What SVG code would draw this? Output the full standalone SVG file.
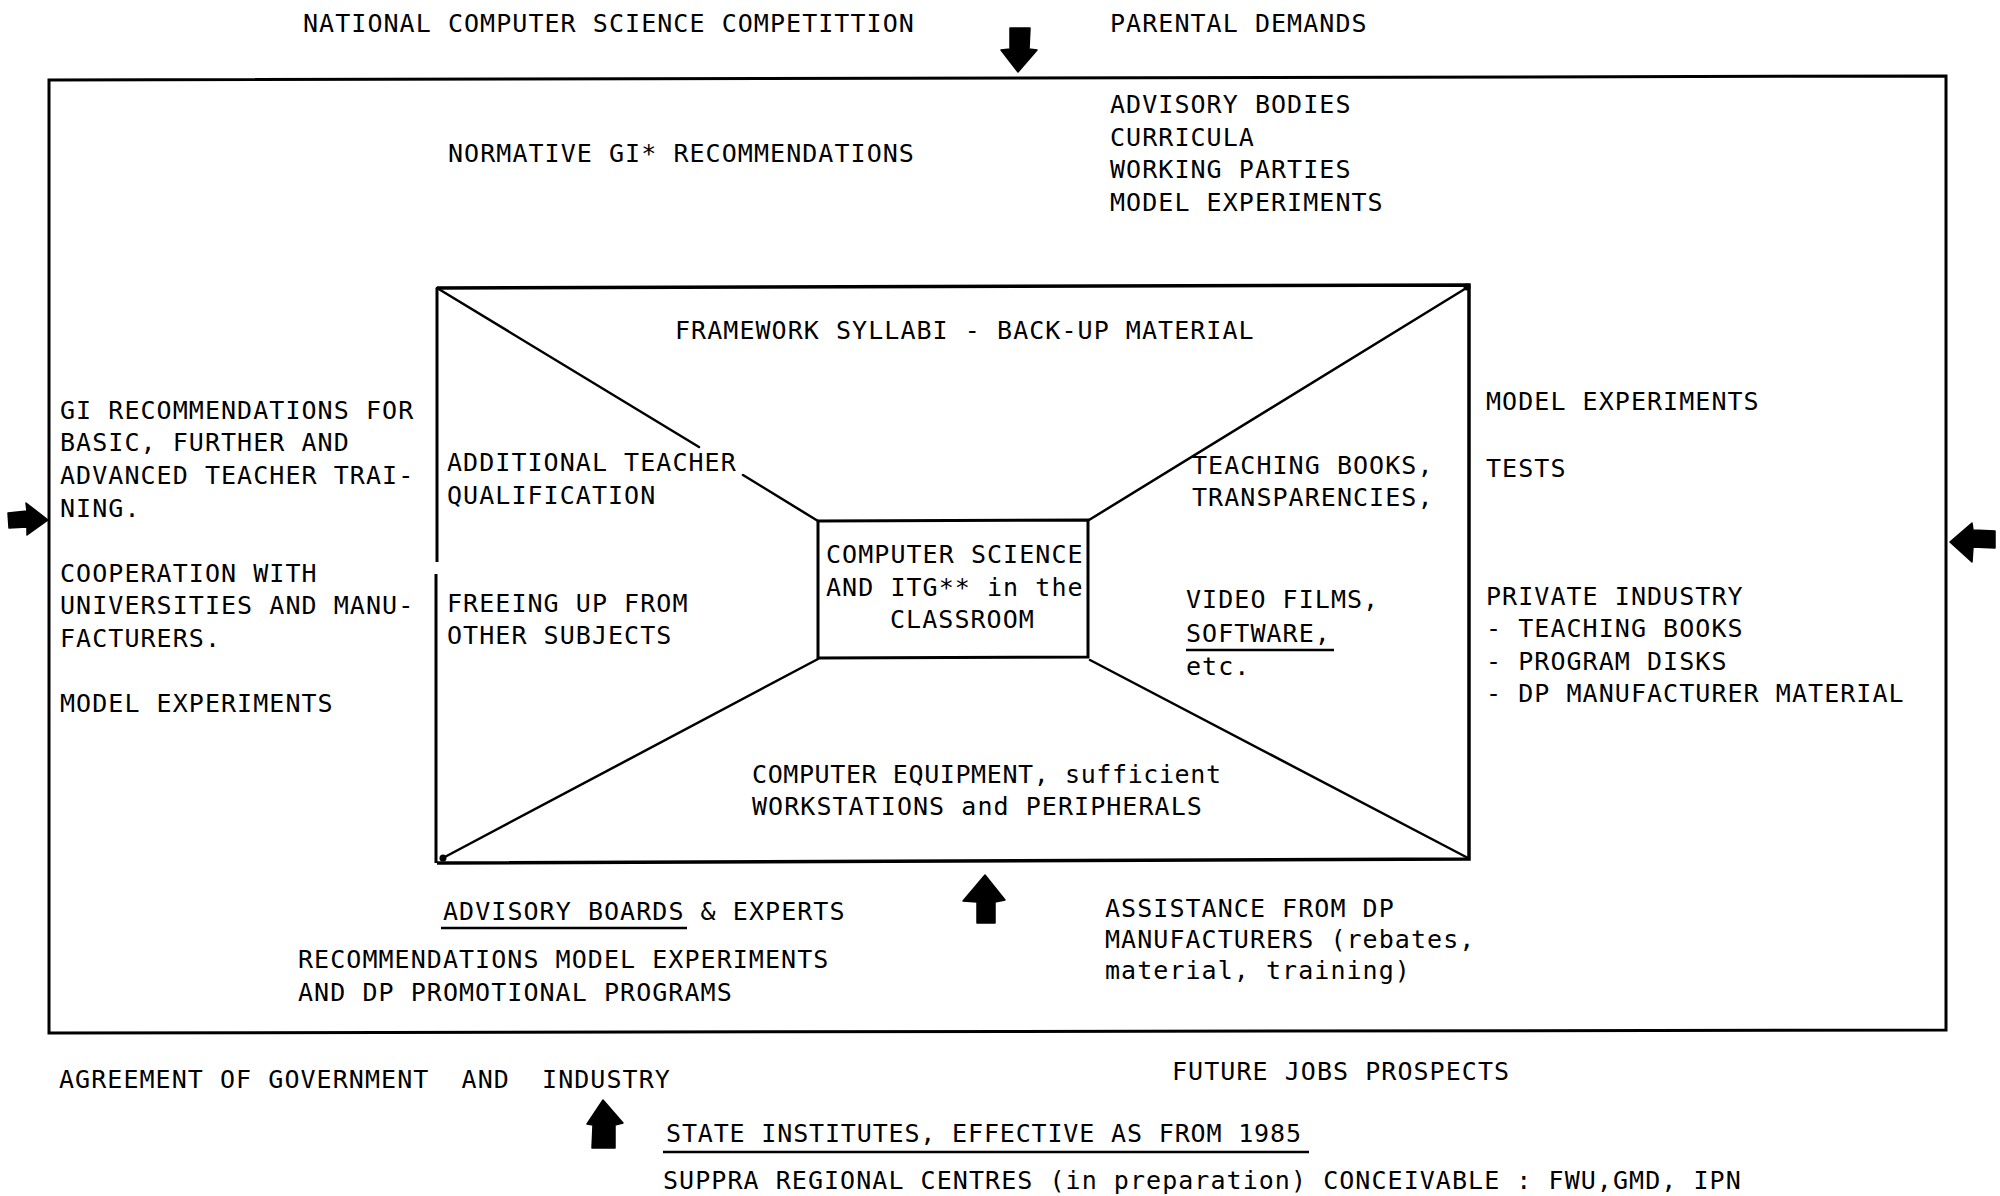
<svg xmlns="http://www.w3.org/2000/svg" width="2000" height="1196" viewBox="0 0 2000 1196">
<style>
.t{font-family:"DejaVu Sans Mono","Liberation Mono",monospace;font-size:25px;letter-spacing:1.05px;fill:#000}
.frame{fill:none;stroke:#000;stroke-width:3;stroke-linejoin:miter}
.thin{fill:none;stroke:#000;stroke-width:2.5;stroke-linecap:round}
.ul{stroke:#000;stroke-width:2.5}
.arrow{fill:#000;stroke:#000;stroke-width:1.5;stroke-linejoin:round}
</style>
<rect width="2000" height="1196" fill="#fff"/>

<g id="outer-frame">
<path class="frame" d="M49,80 L1946,76 L1946,1030 L49,1033 Z"/>
</g>

<g id="inner-frame">
<path class="frame" d="M437,288 L1469,285 L1469,859 L437,863" style="stroke-width:3.5"/>
<path class="frame" d="M437,288 L437,562 M436,574 L436,863"/>
<circle cx="1467" cy="287" r="3.5"/>
<circle cx="443" cy="858" r="3.5"/>
</g>

<g id="center-box">
<path class="frame" d="M818,521 L1088,520 L1088,657 L818,658 Z"/>
<text class="t" x="826" y="563">COMPUTER SCIENCE</text>
<text class="t" x="826" y="596">AND ITG** in the</text>
<text class="t" x="890" y="628">CLASSROOM</text>
</g>

<g id="connectors">
<path class="thin" d="M437,288 L699,447 M743,475 L818,521"/>
<path class="thin" d="M1468,287 L1089,520"/>
<path class="thin" d="M441,859 L818,659"/>
<path class="thin" d="M1090,660 L1468,858"/>
<polygon class="arrow" points="1010,28 1030,28 1029,49 1037,50 1018,72 1001,50 1010,49"/>
<polygon class="arrow" points="8,513 27,511 26,503 48,520 27,535 27,527 9,528"/>
<polygon class="arrow" points="1995,531 1973,530 1972,523 1950,542 1972,562 1973,547 1995,548"/>
<polygon class="arrow" points="985,875 1005,900 995,902 995,923 977,923 977,902 963,901"/>
<polygon class="arrow" points="603,1100 623,1123 615,1125 615,1148 592,1148 593,1125 587,1124"/>
</g>

<g id="top-texts">
<text class="t" x="303" y="32">NATIONAL COMPUTER SCIENCE COMPETITTION</text>
<text class="t" x="1110" y="32">PARENTAL DEMANDS</text>
</g>

<g id="normative">
<text class="t" x="448" y="162">NORMATIVE GI* RECOMMENDATIONS</text>
</g>

<g id="advisory-bodies">
<text class="t" x="1110" y="113">ADVISORY BODIES</text>
<text class="t" x="1110" y="146">CURRICULA</text>
<text class="t" x="1110" y="178">WORKING PARTIES</text>
<text class="t" x="1110" y="211">MODEL EXPERIMENTS</text>
</g>

<g id="framework">
<text class="t" x="675" y="339">FRAMEWORK SYLLABI - BACK-UP MATERIAL</text>
</g>

<g id="left-texts">
<text class="t" x="60" y="419">GI RECOMMENDATIONS FOR</text>
<text class="t" x="60" y="451">BASIC, FURTHER AND</text>
<text class="t" x="60" y="484">ADVANCED TEACHER TRAI-</text>
<text class="t" x="60" y="517">NING.</text>
<text class="t" x="60" y="582">COOPERATION WITH</text>
<text class="t" x="60" y="614">UNIVERSITIES AND MANU-</text>
<text class="t" x="60" y="647">FACTURERS.</text>
<text class="t" x="60" y="712">MODEL EXPERIMENTS</text>
</g>

<g id="teacher">
<text class="t" x="447" y="471">ADDITIONAL TEACHER</text>
<text class="t" x="447" y="504">QUALIFICATION</text>
</g>

<g id="freeing">
<text class="t" x="447" y="612">FREEING UP FROM</text>
<text class="t" x="447" y="644">OTHER SUBJECTS</text>
</g>

<g id="teaching-books">
<text class="t" x="1192" y="474">TEACHING BOOKS,</text>
<text class="t" x="1192" y="506">TRANSPARENCIES,</text>
</g>

<g id="video">
<text class="t" x="1186" y="608">VIDEO FILMS,</text>
<text class="t" x="1186" y="642">SOFTWARE,</text>
<line class="ul" x1="1186" y1="650" x2="1334" y2="650"/>
<text class="t" x="1186" y="675">etc.</text>
</g>

<g id="right-texts">
<text class="t" x="1486" y="410">MODEL EXPERIMENTS</text>
<text class="t" x="1486" y="477">TESTS</text>
<text class="t" x="1486" y="605">PRIVATE INDUSTRY</text>
<text class="t" x="1486" y="637">- TEACHING BOOKS</text>
<text class="t" x="1486" y="670">- PROGRAM DISKS</text>
<text class="t" x="1486" y="702">- DP MANUFACTURER MATERIAL</text>
</g>

<g id="equipment">
<text class="t" x="752" y="783" textLength="470" lengthAdjust="spacing">COMPUTER EQUIPMENT, sufficient</text>
<text class="t" x="752" y="815">WORKSTATIONS and PERIPHERALS</text>
</g>

<g id="advisory-boards">
<text class="t" x="443" y="920">ADVISORY BOARDS &amp; EXPERTS</text>
<line class="ul" x1="441" y1="928" x2="687" y2="928"/>
<text class="t" x="298" y="968">RECOMMENDATIONS MODEL EXPERIMENTS</text>
<text class="t" x="298" y="1001">AND DP PROMOTIONAL PROGRAMS</text>
</g>

<g id="assistance">
<text class="t" x="1105" y="917">ASSISTANCE FROM DP</text>
<text class="t" x="1105" y="948">MANUFACTURERS (rebates,</text>
<text class="t" x="1105" y="979">material, training)</text>
</g>

<g id="bottom-texts">
<text class="t" x="59" y="1088">AGREEMENT OF GOVERNMENT&#160; AND&#160; INDUSTRY</text>
<text class="t" x="1172" y="1080">FUTURE JOBS PROSPECTS</text>
<text class="t" x="666" y="1142" textLength="636" lengthAdjust="spacing">STATE INSTITUTES, EFFECTIVE AS FROM 1985</text>
<line class="ul" x1="663" y1="1152" x2="1309" y2="1152"/>
<text class="t" x="663" y="1189">SUPPRA REGIONAL CENTRES (in preparation) CONCEIVABLE : FWU,GMD, IPN</text>
</g>
</svg>
